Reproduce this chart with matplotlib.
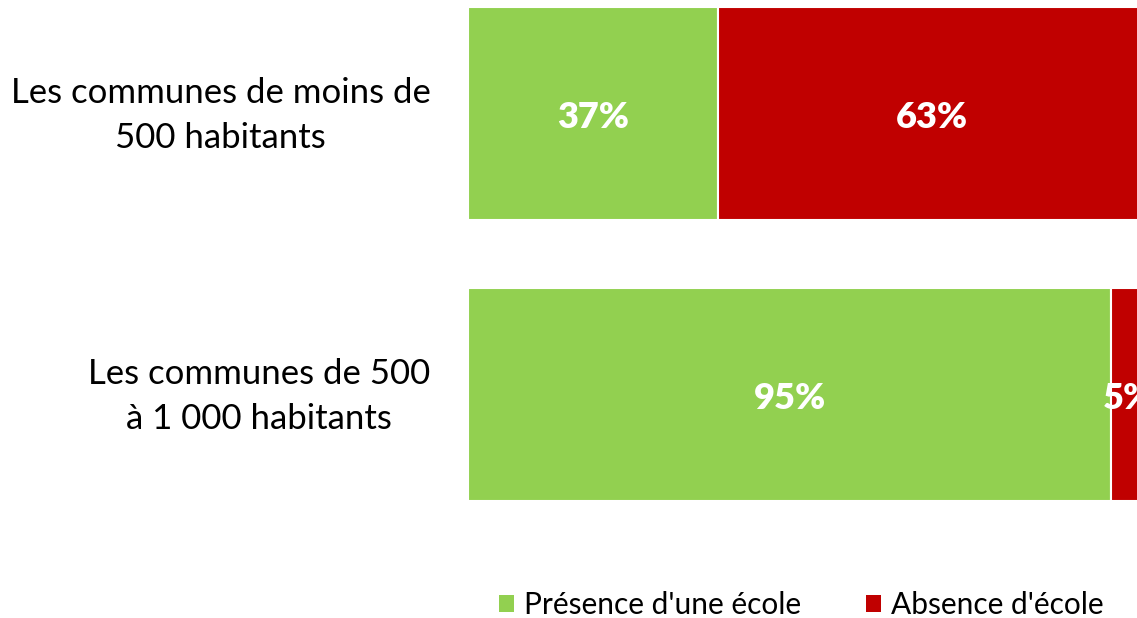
import matplotlib.pyplot as plt
from matplotlib.patches import Patch
from matplotlib.transforms import ScaledTranslation

categories = ["Les communes de moins de\n500 habitants", "Les communes de 500\nà 1 000 habitants"]
presence = [37, 95]
absence = [63, 5]
series_names = ["Présence d'une école", "Absence d'école"]
colors = ["#92d050", "#c00000"]

plt.rcParams['font.family'] = ['Lato', 'DejaVu Sans']

fig = plt.figure(figsize=(11.37, 6.18), dpi=100)
ax = fig.add_axes([468 / 1137, 1 - 535 / 618, 677 / 1137, 535 / 618])

y = range(len(categories))
ax.barh(y, presence, height=0.758, color=colors[0], edgecolor="white", linewidth=1.5)
ax.barh(y, absence, left=presence, height=0.758, color=colors[1], edgecolor="white", linewidth=1.5)

# data labels, nudged down a little so the digits sit centred in the bar
for i in y:
    ax.text(presence[i] / 2, i + 0.015, f"{presence[i]}%", ha="center", va="center",
            color="white", fontsize=26, fontweight="heavy")
    ax.text(presence[i] + absence[i] / 2, i + 0.015, f"{absence[i]}%", ha="center", va="center",
            color="white", fontsize=26, fontweight="heavy")

ax.set_xlim(0, 100)
ax.set_ylim(1.5, -0.404)
ax.set_yticks(list(y))
ax.set_yticklabels(categories, fontsize=25, multialignment="center", linespacing=1.5)
ax.tick_params(axis="y", length=0, pad=27)
ax.set_xticks([])
for s in ax.spines.values():
    s.set_visible(False)

# lift the category labels a bit
shift = ScaledTranslation(0, 8 / 100, fig.dpi_scale_trans)
for lbl in ax.get_yticklabels():
    lbl.set_transform(lbl.get_transform() + shift)

handles = [Patch(facecolor=c, label=n) for c, n in zip(colors, series_names)]
fig.legend(handles=handles, loc="center", bbox_to_anchor=(801.5 / 1137, 1 - 605 / 618), ncol=2,
           frameon=False, fontsize=21.5, handlelength=0.5, handleheight=0.5,
           handletextpad=0.33, columnspacing=2.17)

fig.savefig("out.png", dpi=100)
